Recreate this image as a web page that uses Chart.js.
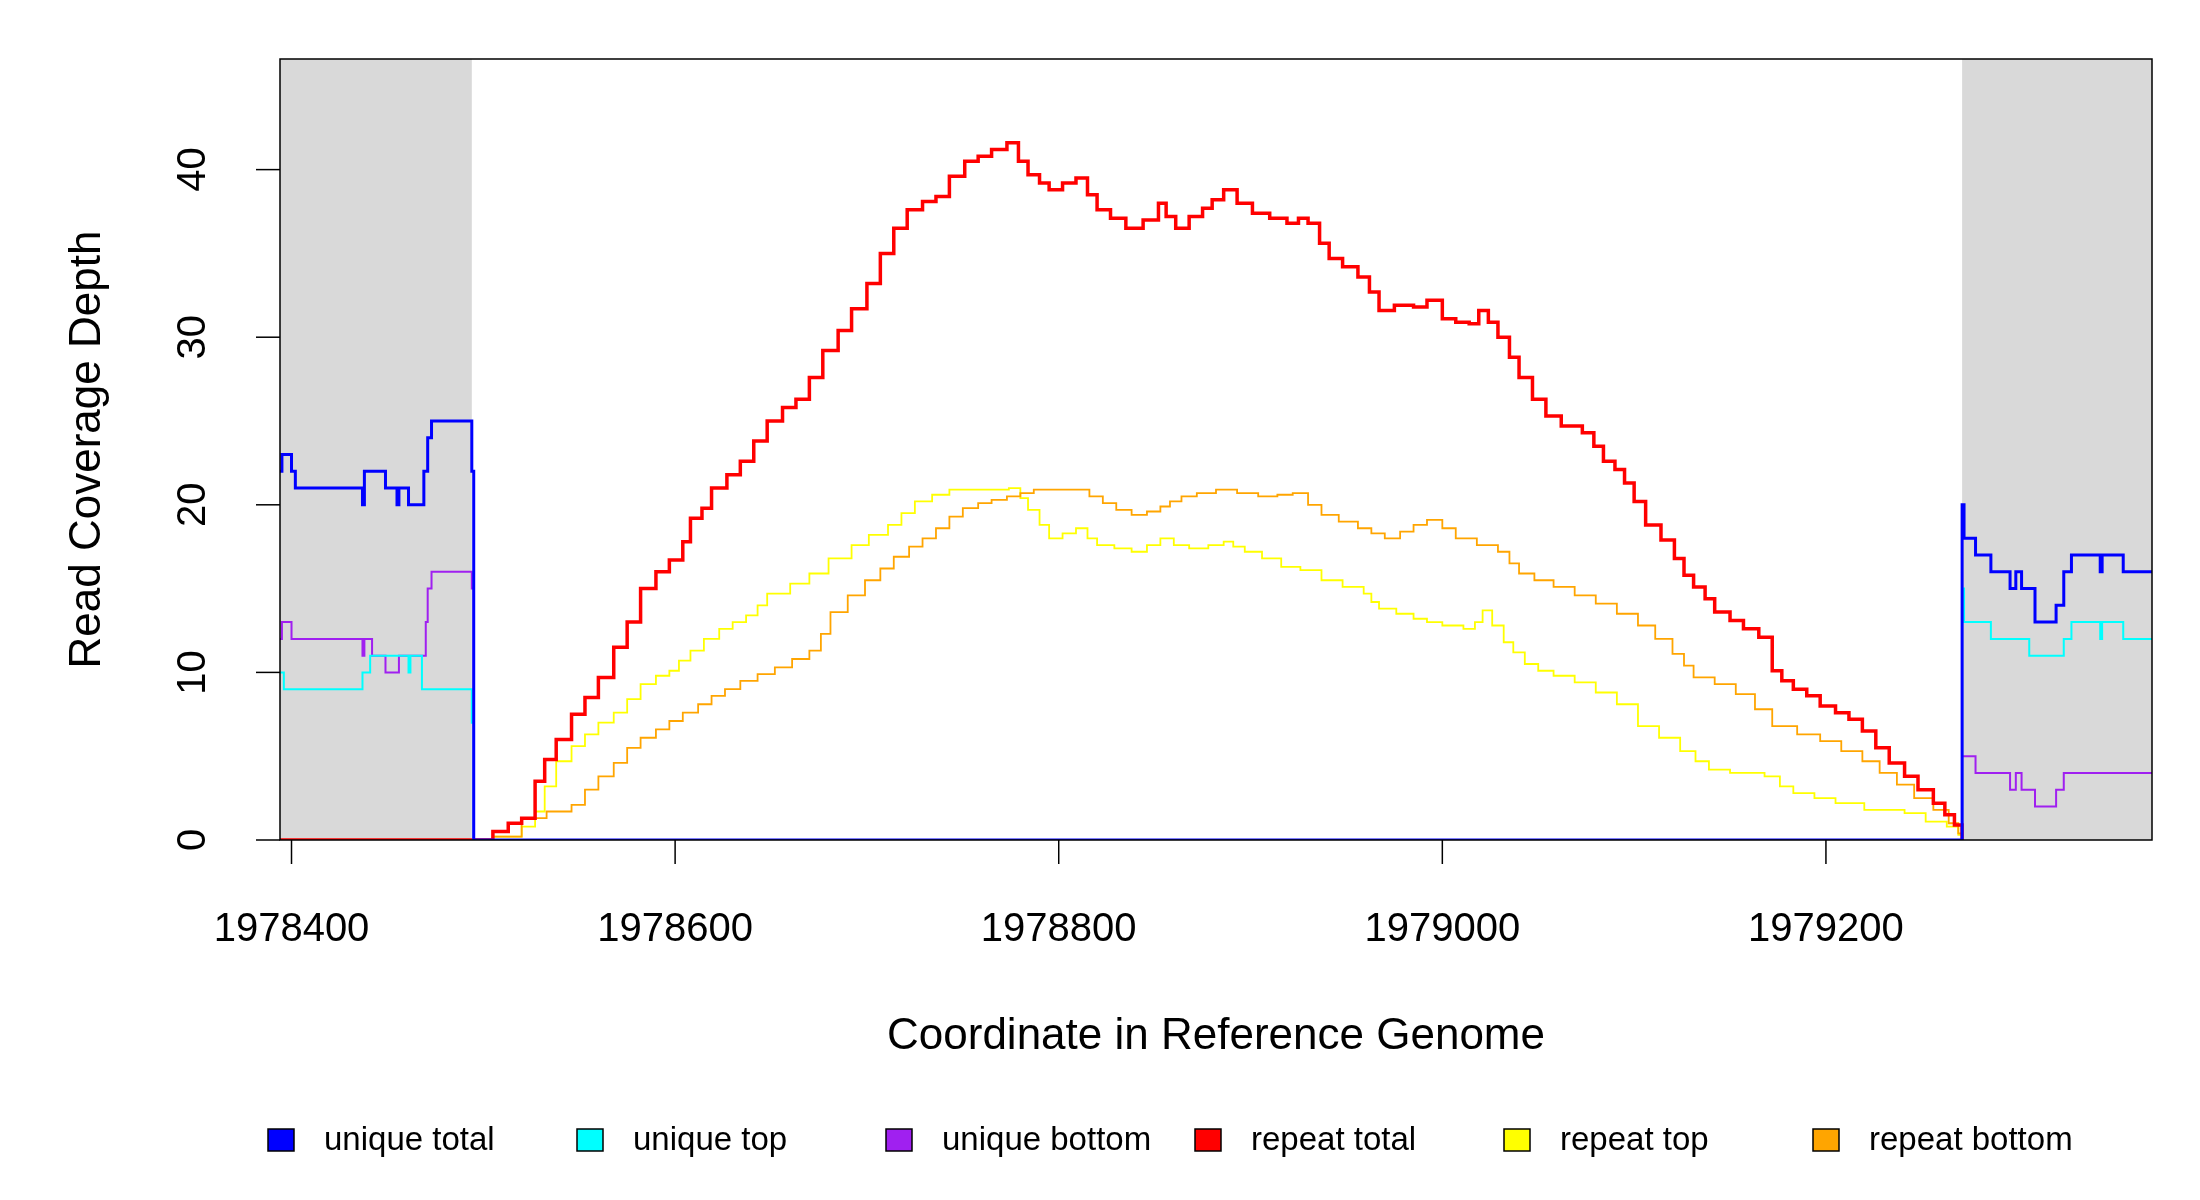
<!DOCTYPE html>
<html>
<head>
<meta charset="utf-8">
<script src="https://cdn.jsdelivr.net/npm/chart.js@4"></script>
<style>
  html, body { margin: 0; padding: 0; background: #fff; }
  #wrap { width: 2200px; height: 1200px; }
</style>
</head>
<body>
<div id="wrap"><canvas id="cov" width="2200" height="1200"></canvas></div>
<script>
// Read coverage depth. Each point is (start coordinate, depth) of a step.
const xMin = 1978394;
const xMax = 1979370;
const yMax = 46.6;
const xTicks = [1978400, 1978600, 1978800, 1979000, 1979200];
const yTicks = [0, 10, 20, 30, 40];
const greyRegions = [[1978394, 1978494], [1979271, 1979370]];

const uniqueTotalX = [1978394, 1978395, 1978400, 1978402, 1978437, 1978438, 1978449, 1978455, 1978456, 1978461, 1978469, 1978471, 1978473, 1978494, 1978495, 1979271, 1979272, 1979278, 1979286, 1979296, 1979299, 1979302, 1979306, 1979309, 1979320, 1979324, 1979328, 1979343, 1979344, 1979355, 1979370];
const uniqueTotalY = [22, 23, 22, 21, 20, 22, 21, 20, 21, 20, 22, 24, 25, 22, 0, 20, 18, 17, 16, 15, 16, 15, 15, 13, 14, 16, 17, 16, 17, 16, 16];

const uniqueTopX = [1978394, 1978396, 1978437, 1978441, 1978461, 1978462, 1978468, 1978494, 1978495, 1979271, 1979272, 1979286, 1979306, 1979324, 1979328, 1979343, 1979344, 1979355, 1979370];
const uniqueTopY = [10, 9, 10, 11, 10, 11, 9, 7, 0, 15, 13, 12, 11, 12, 13, 12, 13, 12, 12];

const uniqueBottomX = [1978394, 1978395, 1978400, 1978437, 1978438, 1978442, 1978449, 1978456, 1978470, 1978471, 1978473, 1978494, 1978495, 1979271, 1979278, 1979296, 1979299, 1979302, 1979309, 1979320, 1979324, 1979370];
const uniqueBottomY = [12, 13, 12, 11, 12, 11, 10, 11, 13, 15, 16, 15, 0, 5, 4, 3, 4, 3, 2, 3, 4, 4];

const repeatTotalX = [1978394, 1978505, 1978513, 1978520, 1978527, 1978532, 1978538, 1978546, 1978553, 1978560, 1978568, 1978575, 1978582, 1978590, 1978597, 1978604, 1978608, 1978614, 1978619, 1978627, 1978634, 1978641, 1978648, 1978656, 1978663, 1978670, 1978677, 1978685, 1978692, 1978700, 1978707, 1978714, 1978721, 1978729, 1978736, 1978743, 1978751, 1978758, 1978765, 1978773, 1978779, 1978784, 1978790, 1978795, 1978802, 1978809, 1978815, 1978820, 1978827, 1978835, 1978844, 1978852, 1978856, 1978861, 1978868, 1978875, 1978880, 1978886, 1978893, 1978901, 1978910, 1978919, 1978925, 1978930, 1978936, 1978941, 1978948, 1978956, 1978962, 1978967, 1978975, 1978985, 1978992, 1979000, 1979007, 1979014, 1979019, 1979024, 1979029, 1979035, 1979040, 1979047, 1979054, 1979062, 1979073, 1979079, 1979084, 1979090, 1979095, 1979100, 1979106, 1979114, 1979121, 1979126, 1979131, 1979137, 1979142, 1979150, 1979157, 1979165, 1979172, 1979177, 1979183, 1979190, 1979197, 1979205, 1979212, 1979219, 1979226, 1979233, 1979241, 1979248, 1979256, 1979262, 1979267, 1979271];
const repeatTotalY = [0, 0.5, 1, 1.3, 3.5, 4.8, 6, 7.5, 8.5, 9.7, 11.5, 13, 15, 16, 16.7, 17.8, 19.2, 19.8, 21, 21.8, 22.6, 23.8, 25, 25.8, 26.3, 27.6, 29.2, 30.4, 31.7, 33.2, 35, 36.5, 37.6, 38.1, 38.4, 39.6, 40.5, 40.8, 41.2, 41.6, 40.5, 39.7, 39.2, 38.8, 39.2, 39.5, 38.5, 37.6, 37.1, 36.5, 37, 38, 37.2, 36.5, 37.2, 37.7, 38.2, 38.8, 38, 37.4, 37.1, 36.8, 37.1, 36.8, 35.6, 34.7, 34.2, 33.6, 32.7, 31.6, 31.9, 31.8, 32.2, 31.1, 30.9, 30.8, 31.6, 30.9, 30, 28.8, 27.6, 26.3, 25.3, 24.7, 24.3, 23.5, 22.6, 22.1, 21.3, 20.2, 18.8, 17.9, 16.8, 15.8, 15.1, 14.4, 13.6, 13.1, 12.6, 12.1, 10.1, 9.5, 9, 8.6, 8, 7.6, 7.2, 6.5, 5.5, 4.6, 3.8, 3, 2.2, 1.5, 0.9, 0];

const repeatTopX = [1978394, 1978505, 1978520, 1978527, 1978532, 1978538, 1978546, 1978553, 1978560, 1978568, 1978575, 1978582, 1978590, 1978597, 1978602, 1978608, 1978615, 1978623, 1978630, 1978637, 1978643, 1978648, 1978660, 1978670, 1978680, 1978692, 1978701, 1978711, 1978718, 1978725, 1978734, 1978743, 1978755, 1978765, 1978774, 1978780, 1978784, 1978790, 1978795, 1978802, 1978809, 1978815, 1978820, 1978829, 1978838, 1978846, 1978853, 1978860, 1978868, 1978878, 1978886, 1978891, 1978897, 1978906, 1978916, 1978926, 1978937, 1978948, 1978959, 1978963, 1978967, 1978976, 1978985, 1978992, 1979000, 1979011, 1979017, 1979021, 1979026, 1979032, 1979037, 1979043, 1979050, 1979058, 1979069, 1979080, 1979091, 1979102, 1979113, 1979124, 1979132, 1979139, 1979150, 1979168, 1979176, 1979183, 1979194, 1979205, 1979220, 1979241, 1979252, 1979263, 1979269, 1979271];
const repeatTopY = [0, 0.2, 0.8, 1.7, 3.2, 4.7, 5.6, 6.3, 7, 7.6, 8.4, 9.3, 9.8, 10.1, 10.7, 11.3, 12, 12.6, 13, 13.4, 14, 14.7, 15.3, 15.9, 16.8, 17.6, 18.2, 18.8, 19.5, 20.2, 20.6, 20.9, 20.9, 20.9, 21, 20.4, 19.7, 18.8, 18, 18.3, 18.6, 18, 17.6, 17.4, 17.2, 17.6, 18, 17.6, 17.4, 17.6, 17.8, 17.5, 17.2, 16.8, 16.3, 16.1, 15.5, 15.1, 14.7, 14.2, 13.8, 13.5, 13.2, 13, 12.8, 12.6, 13, 13.7, 12.8, 11.8, 11.2, 10.5, 10.1, 9.8, 9.4, 8.8, 8.1, 6.8, 6.1, 5.3, 4.7, 4.2, 4, 3.8, 3.2, 2.8, 2.5, 2.2, 1.8, 1.6, 1.1, 0.8, 0.3, 0];

const repeatBottomX = [1978394, 1978505, 1978520, 1978533, 1978546, 1978553, 1978560, 1978568, 1978575, 1978582, 1978590, 1978597, 1978604, 1978612, 1978619, 1978626, 1978634, 1978643, 1978652, 1978661, 1978670, 1978676, 1978681, 1978690, 1978699, 1978707, 1978714, 1978722, 1978729, 1978736, 1978743, 1978750, 1978758, 1978765, 1978773, 1978780, 1978787, 1978800, 1978809, 1978816, 1978823, 1978830, 1978838, 1978846, 1978853, 1978858, 1978864, 1978872, 1978882, 1978893, 1978904, 1978914, 1978922, 1978930, 1978937, 1978946, 1978956, 1978963, 1978970, 1978978, 1978985, 1978992, 1979000, 1979007, 1979018, 1979029, 1979035, 1979040, 1979048, 1979058, 1979069, 1979080, 1979091, 1979102, 1979111, 1979120, 1979126, 1979131, 1979142, 1979153, 1979163, 1979172, 1979185, 1979197, 1979208, 1979219, 1979228, 1979237, 1979246, 1979256, 1979264, 1979269, 1979271];
const repeatBottomY = [0, 0.2, 1.3, 1.7, 2.1, 3, 3.8, 4.6, 5.5, 6.1, 6.6, 7.1, 7.6, 8.1, 8.6, 9, 9.5, 9.9, 10.3, 10.8, 11.3, 12.3, 13.6, 14.6, 15.5, 16.2, 16.9, 17.5, 18, 18.6, 19.3, 19.8, 20.1, 20.3, 20.5, 20.7, 20.9, 20.9, 20.9, 20.5, 20.1, 19.7, 19.4, 19.6, 19.9, 20.2, 20.5, 20.7, 20.9, 20.7, 20.5, 20.6, 20.7, 20, 19.4, 19, 18.6, 18.3, 18, 18.4, 18.8, 19.1, 18.6, 18, 17.6, 17.2, 16.5, 15.9, 15.5, 15.1, 14.6, 14.1, 13.5, 12.8, 12, 11.1, 10.4, 9.7, 9.3, 8.7, 7.8, 6.8, 6.3, 5.9, 5.3, 4.7, 4, 3.3, 2.5, 1.8, 1, 0.4, 0];

const seriesNames = ["unique total", "unique top", "unique bottom", "repeat total", "repeat top", "repeat bottom"];
const seriesColors = ["#0000ff", "#00ffff", "#a020f0", "#ff0000", "#ffff00", "#ffa500"];

function pts(xs, ys) {
  return xs.map((x, i) => ({ x, y: ys[i] }));
}

function stepSet(idx, xs, ys, width, order) {
  return {
    label: seriesNames[idx],
    data: pts(xs, ys),
    borderColor: seriesColors[idx],
    backgroundColor: seriesColors[idx],
    borderWidth: width,
    pointRadius: 0,
    stepped: true,
    fill: false,
    order,
  };
}

const FONT = "'Liberation Sans', Arial, sans-serif";

// Grey shading for the flanking regions, drawn under the lines.
const shading = {
  id: "shading",
  beforeDatasetsDraw(chart) {
    const { ctx, chartArea: a, scales: { x } } = chart;
    ctx.save();
    ctx.fillStyle = "#d9d9d9";
    greyRegions.forEach(([s, e]) => {
      const x0 = Math.max(x.getPixelForValue(s), a.left);
      const x1 = Math.min(x.getPixelForValue(e), a.right);
      ctx.fillRect(x0, a.top, x1 - x0, a.bottom - a.top);
    });
    ctx.restore();
  },
};

// R-style frame, ticks, rotated y labels, titles and legend.
const decor = {
  id: "decor",
  afterDraw(chart) {
    const { ctx, chartArea: a, scales: { x, y } } = chart;
    ctx.save();
    ctx.strokeStyle = "#000";
    ctx.lineWidth = 1.5;
    ctx.strokeRect(a.left, a.top, a.right - a.left, a.bottom - a.top);
    ctx.fillStyle = "#000";

    ctx.font = `40px ${FONT}`;
    ctx.textAlign = "center";
    ctx.textBaseline = "middle";
    x.ticks.forEach((t) => {
      const px = x.getPixelForValue(t.value);
      ctx.beginPath();
      ctx.moveTo(px, a.bottom);
      ctx.lineTo(px, a.bottom + 24);
      ctx.stroke();
      ctx.fillText(String(t.value), px, 930);
    });
    y.ticks.forEach((t) => {
      const py = y.getPixelForValue(t.value);
      ctx.beginPath();
      ctx.moveTo(a.left, py);
      ctx.lineTo(a.left - 24, py);
      ctx.stroke();
      ctx.save();
      ctx.translate(194, py);
      ctx.rotate(-Math.PI / 2);
      ctx.fillText(String(t.value), 0, 0);
      ctx.restore();
    });

    ctx.font = `44px ${FONT}`;
    ctx.fillText("Coordinate in Reference Genome", (a.left + a.right) / 2, 1037);
    ctx.save();
    ctx.translate(88, (a.top + a.bottom) / 2);
    ctx.rotate(-Math.PI / 2);
    ctx.fillText("Read Coverage Depth", 0, 0);
    ctx.restore();

    ctx.font = `33px ${FONT}`;
    ctx.textAlign = "left";
    seriesNames.forEach((name, i) => {
      const bx = 268 + i * 309;
      const by = 1140;
      ctx.fillStyle = seriesColors[i];
      ctx.fillRect(bx, by - 11, 26, 22);
      ctx.strokeStyle = "#000";
      ctx.lineWidth = 1.5;
      ctx.strokeRect(bx, by - 11, 26, 22);
      ctx.fillStyle = "#000";
      ctx.fillText(name, bx + 56, by + 1);
    });
    ctx.restore();
  },
};

new Chart(document.getElementById("cov"), {
  type: "line",
  data: {
    datasets: [
      stepSet(0, uniqueTotalX, uniqueTotalY, 3, 1),
      stepSet(1, uniqueTopX, uniqueTopY, 2, 2),
      stepSet(2, uniqueBottomX, uniqueBottomY, 2, 3),
      stepSet(3, repeatTotalX, repeatTotalY, 3.5, 4),
      stepSet(4, repeatTopX, repeatTopY, 1.8, 6),
      stepSet(5, repeatBottomX, repeatBottomY, 1.8, 5),
    ],
  },
  options: {
    responsive: false,
    animation: false,
    layout: { padding: { left: 272, right: 48, top: 59, bottom: 352 } },
    scales: {
      x: {
        type: "linear",
        min: xMin,
        max: xMax,
        afterBuildTicks: (s) => { s.ticks = xTicks.map((v) => ({ value: v })); },
        ticks: { display: false },
        grid: { display: false },
        border: { display: false },
      },
      y: {
        min: 0,
        max: yMax,
        afterBuildTicks: (s) => { s.ticks = yTicks.map((v) => ({ value: v })); },
        ticks: { display: false },
        grid: { display: false },
        border: { display: false },
      },
    },
    plugins: { legend: { display: false }, tooltip: { enabled: false } },
  },
  plugins: [shading, decor],
});
</script>
</body>
</html>
